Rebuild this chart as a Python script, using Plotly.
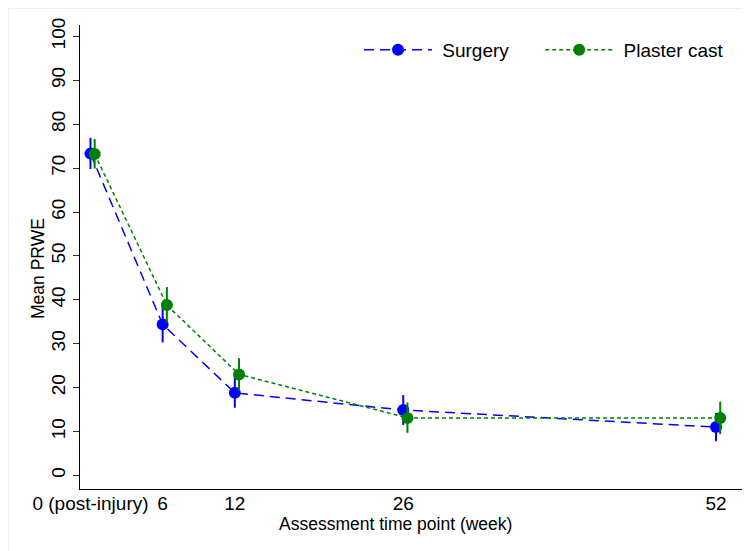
import plotly.graph_objects as go

weeks = [0, 6, 12, 26, 52]
tick_labels = ["0 (post-injury)", "6", "12", "26", "52"]

surgery_mean = [73.3, 34.4, 18.8, 14.9, 11.0]
surgery_upper = [76.9, 38.4, 22.4, 18.3, 14.2]
surgery_lower = [69.8, 30.3, 15.4, 11.5, 7.8]

plaster_mean = [73.2, 38.8, 23.0, 13.1, 13.1]
plaster_upper = [76.6, 42.9, 26.7, 16.6, 16.8]
plaster_lower = [69.9, 34.8, 19.3, 9.7, 9.4]

y_ticks = [0, 10, 20, 30, 40, 50, 60, 70, 80, 90, 100]

plaster_offset = 0.35
FONT = "Liberation Sans, Arial, sans-serif"
FS = 19
FT = 17.5
NB = "\u00a0"

# plot area in page pixels (page has an 8px body margin)
OFF = 8
W, H = 750 - OFF, 551 - OFF
PL, PR, PT, PB = 80, 742, 25, 489
PW, PH = PR - PL, PB - PT


def px_x(p):
    return (p - PL) / PW


def px_y(p):
    return (PB - p) / PH


def err(mean, up, lo, color):
    return dict(type="data", symmetric=False,
                array=[u - m for u, m in zip(up, mean)],
                arrayminus=[m - l for m, l in zip(mean, lo)],
                width=0, thickness=2, color=color)


fig = go.Figure()
fig.add_trace(go.Scatter(
    x=weeks, y=surgery_mean, name=NB + "Surgery" + NB * 5, mode="lines+markers",
    line=dict(color="#0000ff", width=1.5, dash="10px,6px"),
    marker=dict(color="#0000ff", size=12, symbol="circle"),
    error_y=err(surgery_mean, surgery_upper, surgery_lower, "#0000ff"),
))
fig.add_trace(go.Scatter(
    x=[w + plaster_offset for w in weeks], y=plaster_mean,
    name=NB + "Plaster cast", mode="lines+markers",
    line=dict(color="#008000", width=1.5, dash="4px,3px"),
    marker=dict(color="#008000", size=12, symbol="circle"),
    error_y=err(plaster_mean, plaster_upper, plaster_lower, "#008000"),
))

fig.update_layout(
    width=W, height=H,
    margin=dict(l=PL - OFF, r=W + OFF - PR, t=PT - OFF, b=H + OFF - PB),
    paper_bgcolor="white", plot_bgcolor="white",
    font=dict(family=FONT, size=FS, color="black"),
    showlegend=True,
    legend=dict(orientation="h", x=px_x(729), xanchor="right", y=px_y(50),
                yanchor="middle", bgcolor="rgba(0,0,0,0)", itemwidth=68,
                font=dict(family=FONT, size=FS, color="black")),
    xaxis=dict(range=[-0.87, 54.16], tickvals=weeks, ticktext=tick_labels,
               showgrid=False, zeroline=False, showline=True, linecolor="black",
               linewidth=1, ticks="", tickfont=dict(size=FS), automargin=False,
               ticklabelstandoff=-3),
    yaxis=dict(range=[-3.1, 102.6], tickvals=y_ticks, showgrid=False,
               zeroline=False, showline=True, linecolor="black", linewidth=1,
               ticks="outside", ticklen=6, tickcolor="#333333", tickangle=-90,
               tickfont=dict(size=FS), automargin=False),
    annotations=[
        dict(text="Assessment time point (week)", xref="paper", yref="paper",
             x=px_x(395), y=px_y(524), xanchor="center", yanchor="middle",
             showarrow=False, font=dict(size=FT)),
        dict(text="Mean PRWE", xref="paper", yref="paper", textangle=-90,
             x=px_x(38), y=px_y(269), xanchor="center", yanchor="middle",
             showarrow=False, font=dict(size=FT)),
    ],
)

fig.add_shape(type="line", xref="paper", yref="paper", x0=px_x(8.5), x1=px_x(750),
              y0=px_y(8.5), y1=px_y(8.5), line=dict(color="#eef0f0", width=1))
fig.add_shape(type="line", xref="paper", yref="paper", x0=px_x(8.5), x1=px_x(8.5),
              y0=px_y(551), y1=px_y(8.5), line=dict(color="#eef0f0", width=1))

fig.write_html("out.html")
